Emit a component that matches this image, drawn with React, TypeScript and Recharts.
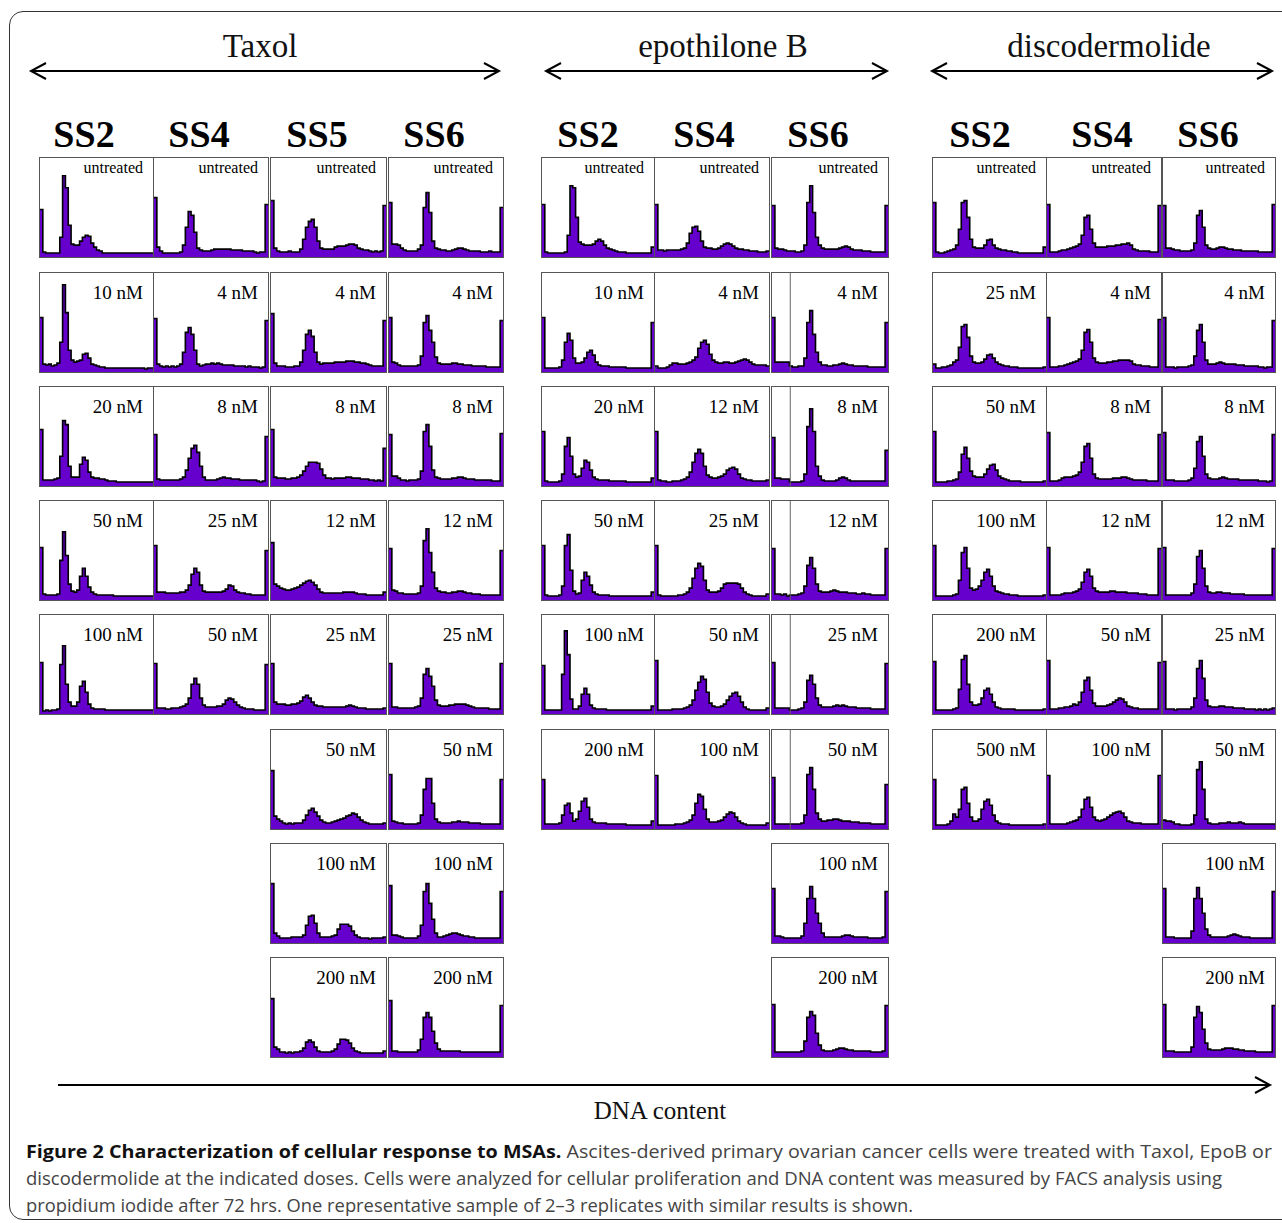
import React from "react";
import { AreaChart, Area, XAxis, YAxis, ReferenceLine } from "recharts";

// ---------- DATA (histogram counts, % of panel height, 40 bins each) ----------
const taxolSS2Doses = ["untreated", "10 nM", "20 nM", "50 nM", "100 nM"];
const taxolSS2Counts = [
  [48,5,4,4,4,4,4,20,82,70, 32,13,12,12,16,20,22,21,14,10, 7,6,4,4,4,4,4,4,4,4, 4,4,4,4,4,4,4,4,4,4],
  [55,8,7,8,6,7,9,30,88,60, 22,12,10,11,12,18,19,14,8,7, 6,5,5,4,4,4,4,4,4,4, 4,4,4,4,4,4,4,3,4,4],
  [57,6,6,6,6,7,8,30,66,62, 20,9,9,9,22,29,26,14,9,8, 8,7,7,6,5,5,5,4,4,4, 4,4,4,4,4,4,4,4,4,4],
  [53,6,5,5,5,5,6,40,69,45, 16,9,8,10,24,32,24,13,8,6, 5,5,5,5,5,5,4,4,4,4, 4,4,4,4,4,4,4,4,4,4],
  [52,3,4,3,4,4,5,50,69,30, 12,8,8,12,28,33,22,10,6,5, 5,5,5,4,4,4,4,4,4,4, 4,4,4,4,4,4,4,4,4,4],
];

const taxolSS4Doses = ["untreated", "4 nM", "8 nM", "25 nM", "50 nM"];
const taxolSS4Counts = [
  [60,10,6,4,4,4,4,4,4,5, 12,30,46,42,25,9,7,6,6,6, 7,8,8,8,8,8,8,7,7,7, 7,6,6,6,6,5,4,5,5,53],
  [54,8,6,5,6,5,6,5,6,8, 20,40,45,38,22,8,6,7,8,8, 9,8,9,8,7,7,7,7,6,6, 6,6,5,6,5,5,5,4,5,52],
  [52,7,6,6,6,6,6,6,6,7, 9,16,28,38,41,34,20,9,6,6, 6,6,7,8,9,8,8,7,7,7, 6,6,6,6,6,6,5,4,5,50],
  [55,8,8,8,7,7,7,7,7,8, 8,10,15,26,32,28,15,9,8,8, 8,8,8,8,9,11,15,14,10,8, 7,7,6,6,5,5,5,5,5,50],
  [51,6,6,6,5,5,6,6,6,7, 8,10,16,30,36,30,16,9,7,7, 7,7,8,8,10,14,16,15,12,9, 7,6,5,5,5,4,4,4,4,50],
];

const taxolSS5Doses = ["untreated", "4 nM", "8 nM", "12 nM", "25 nM", "50 nM", "100 nM", "200 nM"];
const taxolSS5Counts = [
  [57,9,6,5,5,5,6,5,5,5, 8,18,30,36,38,30,16,9,8,8, 8,8,10,11,11,11,12,13,13,12, 9,8,7,7,6,5,6,5,6,52],
  [59,9,6,6,6,5,5,5,6,6, 10,22,38,42,36,20,10,8,9,9, 9,9,10,10,10,10,11,11,11,10, 10,9,9,8,7,6,6,6,6,52],
  [57,9,8,8,8,7,7,8,8,9, 11,15,20,24,24,24,23,17,11,8, 8,7,8,8,8,8,9,9,8,8, 8,7,7,7,6,6,5,6,5,38],
  [58,16,14,12,11,10,10,11,12,13, 15,17,19,20,18,15,11,8,7,7, 7,7,7,7,7,8,8,8,8,7, 6,6,6,5,5,5,5,5,5,8],
  [51,12,10,10,10,9,9,10,10,11, 13,17,19,16,12,9,8,8,7,7, 7,7,7,7,7,7,8,9,8,7, 6,6,6,5,5,5,5,5,5,6],
  [59,13,10,8,6,5,6,5,6,6, 6,9,14,19,21,17,13,9,7,6, 6,7,8,9,10,11,13,14,16,15, 12,9,7,6,5,5,5,5,5,6],
  [60,10,7,5,5,5,5,6,6,6, 6,8,18,27,28,20,10,6,6,6, 6,7,8,14,19,19,19,17,12,8, 6,5,5,5,4,5,5,5,5,6],
  [59,10,8,5,5,4,5,4,5,5, 6,9,15,17,15,10,6,5,5,5, 5,6,8,13,18,18,17,14,9,6, 5,4,4,4,4,4,4,4,4,6],
];

const taxolSS6Doses = ["untreated", "4 nM", "8 nM", "12 nM", "25 nM", "50 nM", "100 nM", "200 nM"];
const taxolSS6Counts = [
  [55,13,13,12,9,7,6,6,6,6, 8,12,50,65,45,16,9,8,7,7, 6,6,7,8,9,9,8,7,6,6, 6,6,5,5,5,6,5,5,5,50],
  [55,10,9,7,6,6,6,6,6,6, 7,16,50,57,42,30,15,9,8,8, 8,8,9,9,8,8,7,7,7,6, 6,6,6,6,5,5,5,5,5,52],
  [52,10,10,8,6,6,5,6,6,6, 7,15,55,62,40,16,9,8,7,7, 7,7,8,8,9,9,8,7,7,7, 6,6,6,6,6,6,5,5,5,53],
  [52,10,9,7,7,6,6,6,6,6, 7,14,60,72,48,28,12,9,8,8, 7,7,8,8,9,9,8,7,7,6, 6,6,5,5,5,5,5,5,5,50],
  [51,7,7,6,6,6,6,6,6,7, 8,16,40,46,38,28,14,9,8,8, 8,9,9,10,10,10,10,9,8,7, 6,6,6,6,6,5,5,5,5,51],
  [55,8,7,6,6,5,5,5,5,5, 6,14,40,51,51,26,10,7,6,6, 6,6,7,7,8,7,7,7,6,6, 6,6,5,5,5,5,5,5,5,50],
  [58,8,8,7,6,5,5,5,5,5, 7,18,52,60,40,24,10,6,6,7, 8,9,10,10,9,8,7,7,6,6, 5,5,5,5,5,5,5,5,5,52],
  [57,6,6,5,5,5,5,5,5,5, 7,18,40,45,40,26,14,8,6,6, 6,6,6,6,6,5,5,5,5,5, 5,5,5,5,5,5,5,5,5,52],
];

const epoSS2Doses = ["untreated", "10 nM", "20 nM", "50 nM", "100 nM", "200 nM"];
const epoSS2Counts = [
  [53,5,4,4,4,4,4,4,5,22, 72,70,40,15,13,12,12,12,13,16, 18,16,12,9,8,7,6,5,5,5, 4,4,4,4,4,4,4,4,4,10],
  [55,4,4,4,4,4,5,12,30,39, 32,14,9,9,10,14,20,22,17,10, 7,6,6,6,5,5,5,5,5,5, 4,4,4,4,4,4,4,4,4,50],
  [55,5,4,4,4,4,5,12,40,49, 30,12,9,10,18,26,24,16,9,7, 6,6,6,6,5,5,5,5,5,5, 4,4,4,4,4,4,4,4,4,8],
  [55,5,4,4,4,4,5,14,55,66, 30,9,6,7,20,28,24,15,8,6, 5,5,5,5,4,4,4,4,4,4, 4,4,4,4,4,4,4,4,4,8],
  [49,4,4,4,4,4,4,40,84,60, 15,5,5,8,20,26,20,9,6,5, 5,5,5,4,4,4,4,4,4,4, 4,4,4,4,4,4,4,4,4,8],
  [50,5,5,5,5,5,6,14,24,26, 16,8,10,18,28,31,22,10,7,6, 6,6,6,5,5,5,5,5,5,5, 4,4,4,4,4,4,4,4,4,8],
];

const epoSS4Doses = ["untreated", "4 nM", "12 nM", "25 nM", "50 nM", "100 nM"];
const epoSS4Counts = [
  [53,7,7,6,7,7,7,7,7,8, 9,14,24,30,31,26,16,10,9,9, 8,8,9,11,13,14,13,11,9,8, 8,7,7,6,6,6,5,5,5,6],
  [6,4,4,4,5,7,9,9,8,8, 8,9,10,12,15,24,30,32,28,18, 12,10,9,9,10,10,9,9,10,11, 12,13,12,10,8,7,7,7,7,6],
  [55,6,5,5,4,4,5,5,5,6, 7,9,14,24,33,37,33,20,11,9, 8,8,9,10,12,16,18,19,17,12, 8,7,6,6,5,5,5,5,5,6],
  [55,5,4,4,4,4,4,4,5,5, 6,8,12,22,32,37,34,20,10,8, 8,8,9,12,16,17,17,17,17,16, 12,8,6,5,4,4,4,4,4,6],
  [54,4,4,4,4,4,5,5,5,5, 6,7,9,14,24,32,38,35,22,11, 8,7,7,8,10,14,18,21,22,18, 12,7,5,4,4,4,4,4,4,6],
  [54,4,4,4,4,4,4,5,5,5, 6,7,9,14,26,35,33,20,10,7, 7,7,8,9,12,15,17,16,12,8, 6,5,4,4,4,4,4,4,4,6],
];

const epoSS6Doses = ["untreated", "4 nM", "8 nM", "12 nM", "25 nM", "50 nM", "100 nM", "200 nM"];
const epoSS6Counts = [
  [52,9,8,8,7,6,6,6,5,5, 6,12,55,72,45,20,12,9,8,8, 8,8,8,9,10,11,10,8,7,7, 7,6,6,6,5,5,5,5,5,52],
  [55,10,10,10,10,10,6,5,5,6, 6,14,50,62,38,20,10,7,7,6, 6,7,7,8,9,8,7,7,6,6, 6,6,6,5,5,5,5,5,5,50],
  [49,8,8,7,7,7,4,4,4,4, 5,12,60,78,55,20,10,6,5,5, 5,5,6,8,9,8,6,5,5,5, 5,5,5,5,5,5,5,5,5,36],
  [52,6,6,5,6,4,5,5,5,6, 7,14,35,43,32,16,9,8,8,8, 9,10,9,8,8,8,7,7,7,6, 6,7,6,6,5,5,5,5,5,52],
  [52,6,6,6,6,6,4,4,4,5, 6,12,34,39,30,16,9,7,7,7, 7,8,9,8,9,8,7,7,7,6, 6,6,6,6,5,5,5,5,5,51],
  [52,5,5,5,5,5,5,5,5,5, 6,14,55,62,40,16,10,8,8,9, 9,10,10,9,8,8,8,7,7,7, 6,6,6,6,5,5,5,5,5,45],
  [55,7,7,6,5,5,5,5,5,5, 7,20,45,57,45,30,20,10,6,6, 6,6,6,6,7,8,8,7,6,6, 6,6,6,5,5,5,5,5,6,52],
  [53,5,5,5,5,5,5,5,5,5, 6,16,40,46,42,24,12,7,6,6, 6,7,8,9,9,8,7,7,6,6, 6,6,6,6,5,5,5,5,6,52],
];
const epoSS6DividerRows = [1, 2, 3, 4, 5];

const discoSS2Doses = ["untreated", "25 nM", "50 nM", "100 nM", "200 nM", "500 nM"];
const discoSS2Counts = [
  [55,5,4,4,5,6,7,8,12,28, 55,57,40,18,10,9,9,9,12,17, 18,12,9,8,7,7,6,6,5,5, 4,4,4,4,4,4,4,4,4,10],
  [8,4,4,5,5,6,7,10,12,25, 46,48,35,16,10,9,9,10,13,17, 18,14,10,8,7,6,6,5,5,5, 4,4,4,4,4,4,4,4,4,5],
  [55,4,4,4,4,5,5,6,7,14, 32,39,28,15,10,9,9,9,12,17, 21,22,16,10,8,7,6,5,5,5, 5,4,4,4,4,4,4,4,4,5],
  [55,4,4,4,4,4,4,5,6,20, 48,53,32,12,10,11,14,20,28,31, 24,14,9,8,7,6,6,5,5,5, 4,4,4,4,4,4,4,4,4,5],
  [53,4,4,4,4,4,4,5,6,25, 55,59,30,12,9,9,10,16,24,26, 20,12,7,6,5,5,5,5,5,4, 4,4,4,4,4,4,4,4,4,5],
  [50,4,4,4,4,5,8,15,12,20, 40,42,26,12,8,8,10,20,28,30, 24,14,8,6,5,5,5,4,4,4, 4,4,4,4,4,4,4,4,4,5],
];

const discoSS4Doses = ["untreated", "4 nM", "8 nM", "12 nM", "50 nM", "100 nM"];
const discoSS4Counts = [
  [53,5,5,5,6,7,7,8,9,10, 11,13,22,40,42,28,14,10,10,10, 10,11,11,11,12,12,13,13,14,12, 8,7,6,6,6,6,5,5,5,52],
  [55,5,5,5,6,6,7,8,9,10, 11,13,22,40,43,30,14,10,9,9, 9,10,10,11,11,12,12,12,12,11, 8,7,7,6,6,6,5,5,5,53],
  [54,5,5,5,6,8,9,9,9,10, 11,14,24,40,43,28,12,8,7,7, 7,7,7,8,8,8,9,9,8,7, 6,6,6,6,6,5,5,5,5,52],
  [53,5,5,5,5,6,7,7,7,8, 9,11,18,28,31,24,12,9,8,8, 8,8,9,9,8,8,8,8,7,7, 7,7,6,6,6,5,5,5,5,52],
  [54,5,5,5,6,6,7,7,8,10, 9,12,22,34,37,24,11,8,8,8, 8,9,10,12,14,16,15,12,8,7, 6,6,5,5,5,5,5,5,5,52],
  [54,5,5,5,5,5,5,6,7,8, 9,12,20,30,32,22,12,9,8,9, 10,12,14,16,17,18,16,12,8,7, 6,6,6,5,5,5,5,5,5,54],
];

const discoSS6Doses = ["untreated", "4 nM", "8 nM", "12 nM", "25 nM", "50 nM", "100 nM", "200 nM"];
const discoSS6Counts = [
  [52,9,9,8,7,7,6,6,6,6, 7,14,42,47,30,12,9,8,8,9, 10,10,9,8,8,7,7,7,6,6, 6,6,6,6,5,5,5,5,5,53],
  [55,5,5,5,4,5,5,5,5,6, 7,16,42,48,30,12,8,8,8,9, 10,9,8,8,8,8,7,7,7,6, 6,6,6,6,5,5,4,5,5,52],
  [54,6,6,6,5,5,5,5,5,6, 8,18,45,50,30,12,8,7,7,7, 8,9,8,7,7,7,7,6,6,6, 6,6,6,6,5,5,5,4,5,52],
  [53,5,5,5,5,5,5,5,5,5, 7,16,44,50,32,14,8,7,7,8, 8,7,7,7,6,6,6,6,6,5, 5,5,5,5,5,5,5,5,5,52],
  [53,5,5,5,4,5,5,5,5,5, 7,16,46,54,36,14,8,7,7,7, 8,8,7,7,7,6,6,6,6,5, 5,5,5,4,5,4,5,4,5,6],
  [9,8,8,7,5,5,4,4,4,4, 5,14,60,68,40,10,6,5,5,5, 6,6,6,7,6,6,6,7,6,5, 5,5,5,5,5,5,5,5,5,5],
  [55,6,6,6,5,5,5,5,5,5, 12,45,56,45,30,14,8,6,6,6, 6,6,6,7,8,9,8,7,6,6, 6,5,5,5,5,5,5,5,5,52],
  [53,6,6,6,5,5,5,5,5,5, 10,40,51,45,28,14,8,7,7,7, 7,8,9,9,9,8,8,7,7,6, 6,6,6,5,5,5,5,5,5,52],
];

const drugNames = ["Taxol", "epothilone B", "discodermolide"];
const sampleNames = ["SS2", "SS4", "SS5", "SS6"];
const captionBold = "Figure 2 Characterization of cellular response to MSAs.";
const captionLine1 = " Ascites-derived primary ovarian cancer cells were treated with Taxol, EpoB or";
const captionLine2 = "discodermolide at the indicated doses. Cells were analyzed for cellular proliferation and DNA content was measured by FACS analysis using";
const captionLine3 = "propidium iodide after 72 hrs. One representative sample of 2–3 replicates with similar results is shown.";
const xAxisTitle = "DNA content";

// ---------- LAYOUT ----------
const PURPLE = "#6600cc";
const SERIF = "'Liberation Serif', 'Times New Roman', serif";
const SANS = "'Open Sans', 'Noto Sans', sans-serif";
const ROW_TOPS = [157, 272, 386, 500, 614, 729, 843, 957];
const PANEL_H = 101;

type Col = {
  x: number;
  w: number;
  doses: string[];
  counts: number[][];
  sample: string;
  labelX: number;
  dividerRows?: number[];
};

const COLS: Col[] = [
  { x: 39, w: 115, doses: taxolSS2Doses, counts: taxolSS2Counts, sample: sampleNames[0], labelX: 84 },
  { x: 153, w: 116, doses: taxolSS4Doses, counts: taxolSS4Counts, sample: sampleNames[1], labelX: 199 },
  { x: 270, w: 117, doses: taxolSS5Doses, counts: taxolSS5Counts, sample: sampleNames[2], labelX: 317 },
  { x: 388, w: 116, doses: taxolSS6Doses, counts: taxolSS6Counts, sample: sampleNames[3], labelX: 434 },
  { x: 541, w: 114, doses: epoSS2Doses, counts: epoSS2Counts, sample: sampleNames[0], labelX: 588 },
  { x: 654, w: 116, doses: epoSS4Doses, counts: epoSS4Counts, sample: sampleNames[1], labelX: 704 },
  { x: 771, w: 118, doses: epoSS6Doses, counts: epoSS6Counts, sample: sampleNames[3], labelX: 818, dividerRows: epoSS6DividerRows },
  { x: 932, w: 115, doses: discoSS2Doses, counts: discoSS2Counts, sample: sampleNames[0], labelX: 980 },
  { x: 1046, w: 116, doses: discoSS4Doses, counts: discoSS4Counts, sample: sampleNames[1], labelX: 1102 },
  { x: 1162, w: 114, doses: discoSS6Doses, counts: discoSS6Counts, sample: sampleNames[3], labelX: 1208 },
];

const HEADERS = [
  { name: drugNames[0], cx: 260, x1: 31, x2: 499 },
  { name: drugNames[1], cx: 723, x1: 546, x2: 887 },
  { name: drugNames[2], cx: 1109, x1: 932, x2: 1272 },
];

function Histogram({ counts, width, height, divider }: { counts: number[]; width: number; height: number; divider: boolean }) {
  const data = counts.map((v, i) => ({ x: i, v }));
  data.push({ x: counts.length, v: counts[counts.length - 1] });
  return (
    <AreaChart width={width} height={height} data={data} margin={{ top: 0, right: 0, bottom: 0, left: 0 }}>
      <XAxis dataKey="x" type="number" domain={[0, counts.length]} hide />
      <YAxis type="number" domain={[0, 100]} hide />
      {divider && <ReferenceLine x={6.3} stroke="#666" strokeWidth={1} />}
      <Area
        type="stepAfter"
        dataKey="v"
        stroke="#000"
        strokeWidth={1.6}
        fill={PURPLE}
        fillOpacity={1}
        isAnimationActive={false}
        dot={false}
        activeDot={false}
      />
    </AreaChart>
  );
}

function Chevron({ x, y, dir }: { x: number; y: number; dir: 1 | -1 }) {
  return (
    <polyline
      points={`${x + dir * 15},${y - 8} ${x},${y} ${x + dir * 15},${y + 8}`}
      fill="none"
      stroke="#000"
      strokeWidth={2}
    />
  );
}

export default function App() {
  return (
    <div style={{ position: "absolute", left: 0, top: 0, width: 1282, height: 1223, background: "#fff", overflow: "hidden" }}>
      {/* outer rounded frame */}
      <div
        style={{
          position: "absolute",
          left: 9,
          top: 11,
          width: 1300,
          height: 1209,
          border: "1.5px solid #333",
          borderRadius: 14,
          boxSizing: "border-box",
        }}
      />
      {COLS.map((col, ci) =>
        col.counts.map((counts, ri) => (
          <div
            key={`${ci}-${ri}`}
            style={{
              position: "absolute",
              left: col.x,
              top: ROW_TOPS[ri],
              width: col.w,
              height: PANEL_H,
              boxSizing: "border-box",
              border: "1px solid #555",
              background: "#fff",
            }}
          >
            <Histogram
              counts={counts}
              width={col.w - 2}
              height={PANEL_H - 2}
              divider={!!col.dividerRows && col.dividerRows.includes(ri)}
            />
          </div>
        ))
      )}
      <svg
        width={1282}
        height={1223}
        style={{ position: "absolute", left: 0, top: 0, pointerEvents: "none" }}
      >
        {HEADERS.map((h) => (
          <g key={h.name}>
            <text x={h.cx} y={57} textAnchor="middle" fontFamily={SERIF} fontSize={33} fill="#111">
              {h.name}
            </text>
            <line x1={h.x1} y1={71} x2={h.x2} y2={71} stroke="#000" strokeWidth={2} />
            <Chevron x={h.x1} y={71} dir={1} />
            <Chevron x={h.x2} y={71} dir={-1} />
          </g>
        ))}
        {COLS.map((col) => (
          <text
            key={`s-${col.labelX}`}
            x={col.labelX}
            y={147}
            textAnchor="middle"
            fontFamily={SERIF}
            fontWeight="bold"
            fontSize={38}
            fill="#000"
          >
            {col.sample}
          </text>
        ))}
        {COLS.map((col, ci) =>
          col.doses.map((d, ri) => (
            <text
              key={`l-${ci}-${ri}`}
              x={col.x + col.w - 11}
              y={ROW_TOPS[ri] + (d === "untreated" ? 16 : 27)}
              textAnchor="end"
              fontFamily={SERIF}
              fontSize={d === "untreated" ? 16 : 19}
              fill="#000"
            >
              {d}
            </text>
          ))
        )}
        {/* DNA content arrow */}
        <line x1={58} y1={1085} x2={1270} y2={1085} stroke="#000" strokeWidth={2} />
        <Chevron x={1270} y={1085} dir={-1} />
        <text x={660} y={1119} textAnchor="middle" fontFamily={SERIF} fontSize={25} fill="#111">
          {xAxisTitle}
        </text>
        {/* caption */}
        <text x={26} y={1158} fontFamily={SANS} fontSize={18} fill="#444" textLength={1246} lengthAdjust="spacingAndGlyphs">
          <tspan fontWeight="bold" fill="#111">{captionBold}</tspan>
          <tspan>{captionLine1}</tspan>
        </text>
        <text x={26} y={1185} fontFamily={SANS} fontSize={18} fill="#444" textLength={1196} lengthAdjust="spacingAndGlyphs">
          {captionLine2}
        </text>
        <text x={26} y={1212} fontFamily={SANS} fontSize={18} fill="#444" textLength={887} lengthAdjust="spacingAndGlyphs">
          {captionLine3}
        </text>
      </svg>
    </div>
  );
}
